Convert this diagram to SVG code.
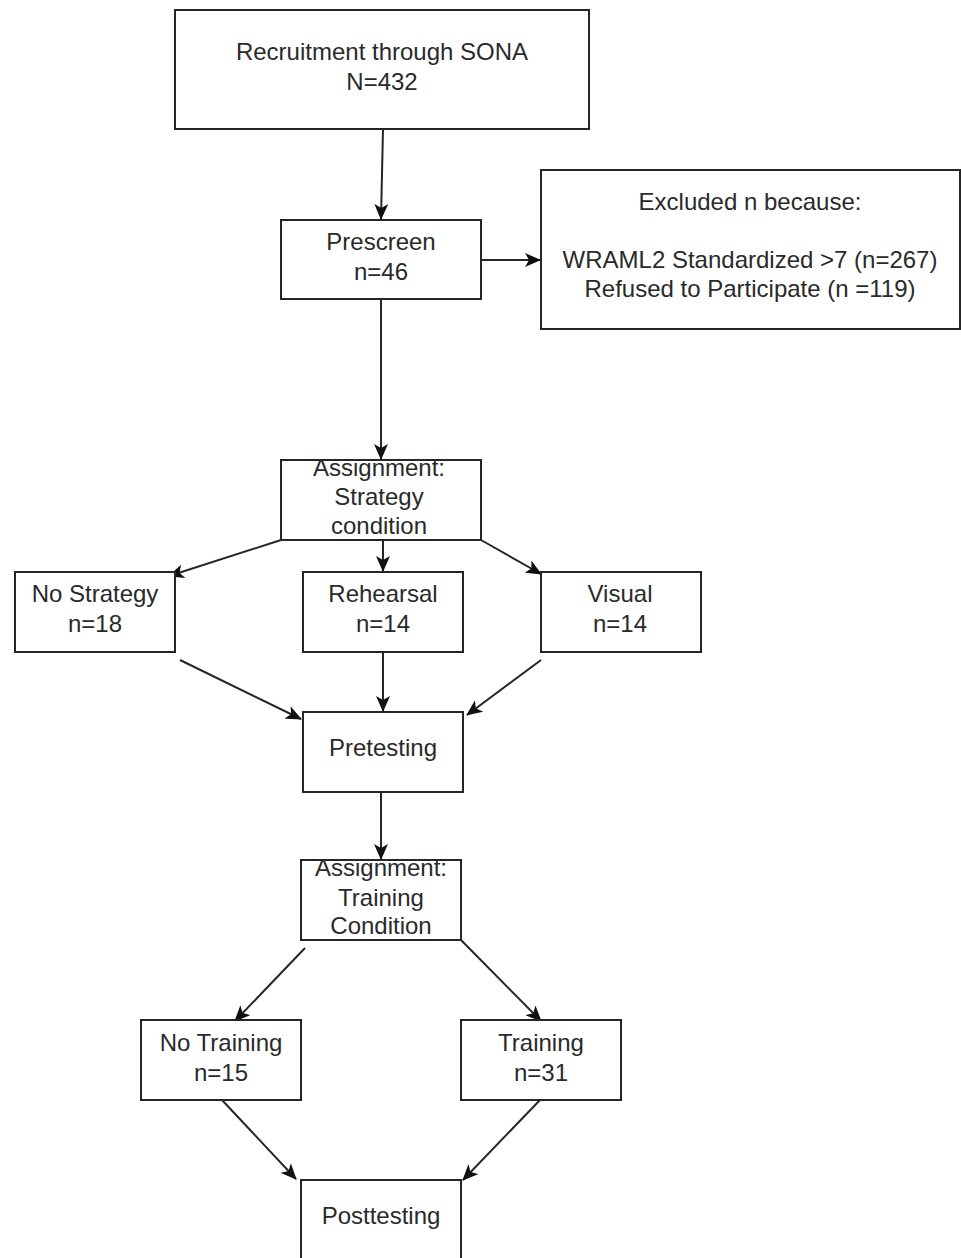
<svg xmlns="http://www.w3.org/2000/svg" width="961" height="1258" viewBox="0 0 961 1258">
<style>
.box{fill:#fff;stroke:#262626;stroke-width:2}
.t{font-family:"Liberation Sans",Arial,sans-serif;font-size:24px;fill:#2a2a2a;text-anchor:middle}
.c{fill:none;stroke:#262626;stroke-width:2;marker-end:url(#ah)}
</style>
<defs>
<marker id="ah" viewBox="0 0 16 14" refX="15" refY="7" markerWidth="16" markerHeight="14" markerUnits="userSpaceOnUse" orient="auto">
<path d="M0,0 L16,7 L0,14 L4,7 z" fill="#111"/>
</marker>
</defs>
<rect width="961" height="1258" fill="#fff"/>
<g id="connectors">
<path class="c" d="M383,129 L381,219"/>
<path class="c" d="M481,260 L540,260"/>
<path class="c" d="M381,299 L381,459"/>
<path class="c" d="M281,540 L169,576"/>
<path class="c" d="M383,540 L383,571"/>
<path class="c" d="M481,540 L541,574"/>
<path class="c" d="M180,660 L301,719"/>
<path class="c" d="M383,652 L383,711"/>
<path class="c" d="M541,660 L467,715"/>
<path class="c" d="M381,792 L381,859"/>
<path class="c" d="M305,948 L235,1021"/>
<path class="c" d="M461,940 L541,1021"/>
<path class="c" d="M222,1100 L296,1179"/>
<path class="c" d="M540,1100 L463,1180"/>
</g>
<g id="recruitment"><rect class="box" x="175" y="10" width="414" height="119"/>
<text class="t" x="382" y="60">Recruitment through SONA</text><text class="t" x="382" y="90">N=432</text></g>
<g id="prescreen"><rect class="box" x="281" y="220" width="200" height="79"/>
<text class="t" x="381" y="250">Prescreen</text><text class="t" x="381" y="280">n=46</text></g>
<g id="excluded"><rect class="box" x="541" y="170" width="419" height="159"/>
<text class="t" x="750" y="210">Excluded n because:</text>
<text class="t" x="750" y="268">WRAML2 Standardized &gt;7 (n=267)</text>
<text class="t" x="750" y="297">Refused to Participate (n =119)</text></g>
<g id="assign-strategy"><rect class="box" x="281" y="460" width="200" height="80"/>
<text class="t" x="379" y="476">Assignment:</text><text class="t" x="379" y="505">Strategy</text><text class="t" x="379" y="534">condition</text></g>
<g id="no-strategy"><rect class="box" x="15" y="572" width="160" height="80"/>
<text class="t" x="95" y="602">No Strategy</text><text class="t" x="95" y="632">n=18</text></g>
<g id="rehearsal"><rect class="box" x="303" y="572" width="160" height="80"/>
<text class="t" x="383" y="602">Rehearsal</text><text class="t" x="383" y="632">n=14</text></g>
<g id="visual"><rect class="box" x="541" y="572" width="160" height="80"/>
<text class="t" x="620" y="602">Visual</text><text class="t" x="620" y="632">n=14</text></g>
<g id="pretesting"><rect class="box" x="303" y="712" width="160" height="80"/>
<text class="t" x="383" y="756">Pretesting</text></g>
<g id="assign-training"><rect class="box" x="301" y="860" width="160" height="80"/>
<text class="t" x="381" y="876">Assignment:</text><text class="t" x="381" y="906">Training</text><text class="t" x="381" y="934">Condition</text></g>
<g id="no-training"><rect class="box" x="141" y="1020" width="160" height="80"/>
<text class="t" x="221" y="1051">No Training</text><text class="t" x="221" y="1081">n=15</text></g>
<g id="training"><rect class="box" x="461" y="1020" width="160" height="80"/>
<text class="t" x="541" y="1051">Training</text><text class="t" x="541" y="1081">n=31</text></g>
<g id="posttesting"><rect class="box" x="301" y="1180" width="160" height="90"/>
<text class="t" x="381" y="1224">Posttesting</text></g>
</svg>
